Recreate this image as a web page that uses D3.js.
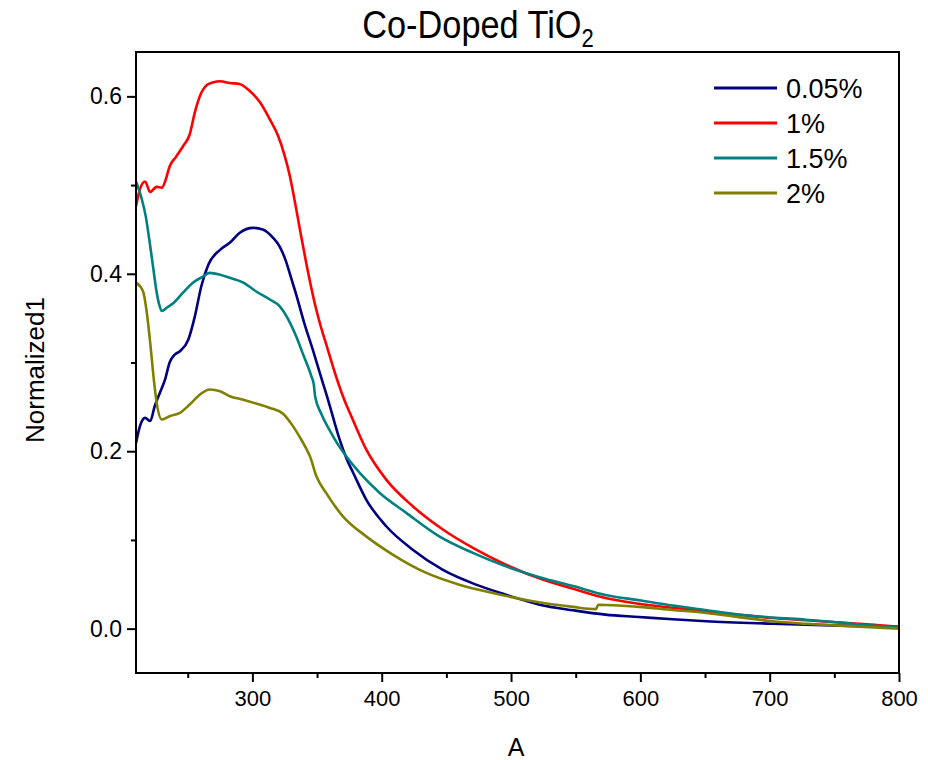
<!DOCTYPE html>
<html><head><meta charset="utf-8">
<script src="https://cdn.jsdelivr.net/npm/d3@7"></script>
<style>body{margin:0;background:#fff}svg{display:block}</style>
</head><body><svg id="c" width="928" height="760"></svg>
<script>
const seriesNames = ["0.05%", "1%", "1.5%", "2%"];
const seriesColors = ["#000080", "#ff0000", "#008080", "#808000"];
const xTicks = [300, 400, 500, 600, 700, 800];
const yTicks = [0.0, 0.2, 0.4, 0.6];

const s005 = [[210,0.209],[213,0.228],[217,0.2376],[221,0.234],[224.5,0.251],[228.5,0.266],[232.5,0.281],[236,0.300],[240,0.309],[244,0.3127],[250.5,0.326],[255.5,0.352],[260.5,0.386],[266,0.4105],[275,0.427],[282.5,0.435],[290,0.446],[300.5,0.4518],[308,0.450],[316,0.4406],[321,0.431],[326,0.414],[330,0.395],[334,0.376],[340,0.345],[347,0.313],[353,0.284],[358.5,0.258],[363,0.235],[367.5,0.213],[373,0.191],[378,0.1755],[388,0.1455],[403.5,0.1154],[424,0.089],[447,0.0665],[473,0.0496],[496,0.0383],[522,0.027],[548,0.0207],[573,0.0158],[599,0.0132],[625,0.0105],[651,0.0083],[702,0.0056],[754,0.0034],[800,0.002]];
const s1 = [[210,0.476],[213,0.495],[217,0.504],[221,0.492],[224,0.496],[226,0.498],[230,0.497],[232.5,0.504],[236,0.521],[241,0.532],[246.5,0.544],[251.5,0.557],[255.5,0.582],[260.5,0.604],[265,0.613],[270,0.616],[275,0.617],[282.5,0.615],[290,0.614],[298,0.606],[306,0.593],[313.5,0.574],[320,0.555],[325,0.533],[329,0.510],[333,0.480],[337,0.448],[341,0.417],[345,0.388],[349,0.362],[353,0.340],[357,0.321],[363,0.292],[370,0.262],[377.5,0.236],[388,0.202],[403.5,0.168],[424,0.138],[447,0.112],[473,0.089],[496,0.072],[525,0.055],[550,0.044],[573,0.0345],[599,0.028],[625,0.0235],[651,0.0195],[676,0.0155],[702,0.012],[728,0.0095],[754,0.007],[778,0.0045],[800,0.002]];
const s15 = [[210,0.504],[214.5,0.484],[217.5,0.465],[221,0.431],[223,0.410],[226,0.379],[228,0.365],[230,0.358],[234,0.362],[239,0.367],[246.5,0.379],[254,0.390],[262,0.397],[267,0.401],[275,0.399],[282.5,0.3955],[293,0.390],[303,0.380],[313.5,0.371],[321,0.3635],[329,0.345],[334,0.329],[339,0.310],[345.5,0.285],[347.5,0.275],[348.5,0.262],[353,0.243],[360,0.223],[366,0.208],[372.7,0.194],[383,0.1755],[398.5,0.153],[419,0.1305],[444.5,0.104],[470.5,0.0854],[496,0.0703],[522,0.058],[548,0.048],[573,0.038],[599,0.032],[625,0.026],[650,0.021],[676,0.0158],[702,0.0125],[728,0.0101],[754,0.007],[779,0.0034],[800,0.001]];
const s2 = [[210,0.390],[215.5,0.380],[218,0.360],[221,0.322],[223.5,0.2846],[226,0.2545],[230,0.2357],[236,0.2394],[244,0.2433],[251.5,0.2526],[259.5,0.264],[267,0.2695],[275,0.2676],[282.5,0.262],[293,0.258],[303,0.2537],[313.5,0.2488],[323.5,0.2425],[331.5,0.228],[337,0.215],[342,0.2019],[344.5,0.1943],[349.5,0.1718],[357,0.153],[370,0.1266],[388,0.104],[408.5,0.0835],[434.5,0.0628],[460,0.0496],[486,0.0402],[517,0.0308],[548,0.0245],[565.5,0.022],[567.5,0.027],[599,0.0245],[625,0.021],[651,0.0177],[676,0.013],[702,0.0083],[728,0.0055],[754,0.0034],[800,0.0]];
const seriesData = [s005, s1, s15, s2];

const svg = d3.select("#c");
const m = {l:136, r:899, t:52, b:673};
const x = d3.scaleLinear().domain([210, 800]).range([m.l, m.r]);
const y = d3.scaleLinear().domain([-0.05, 0.65]).range([m.b, m.t]);
const font = "Liberation Sans, Arial, sans-serif";

// lines
svg.append("clipPath").attr("id","clp").append("rect")
  .attr("x", m.l).attr("y", m.t).attr("width", m.r-m.l).attr("height", m.b-m.t);
const line = d3.line().x(d=>x(d[0])).y(d=>y(d[1])).curve(d3.curveMonotoneX);
const g = svg.append("g").attr("clip-path","url(#clp)");
seriesData.forEach((s,i)=>{
  g.append("path").attr("d", line(s)).attr("fill","none")
    .attr("stroke", seriesColors[i]).attr("stroke-width", 2.6).attr("stroke-linejoin","round");
});

// frame
svg.append("rect").attr("x", m.l).attr("y", m.t).attr("width", m.r-m.l).attr("height", m.b-m.t)
  .attr("fill","none").attr("stroke","#000").attr("stroke-width",2);

// x axis
svg.append("g").attr("class","xax").attr("transform",`translate(0,${m.b})`)
  .call(d3.axisBottom(x).tickValues(xTicks).tickFormat(d3.format("d")).tickSize(9).tickPadding(8));
svg.append("g").attr("transform",`translate(0,${m.b})`)
  .call(d3.axisBottom(x).tickValues([250,350,450,550,650,750]).tickFormat("").tickSize(5));
// y axis
svg.append("g").attr("class","yax").attr("transform",`translate(${m.l},0)`)
  .call(d3.axisLeft(y).tickValues(yTicks).tickFormat(d3.format(".1f")).tickSize(9).tickPadding(5));
svg.append("g").attr("transform",`translate(${m.l},0)`)
  .call(d3.axisLeft(y).tickValues([0.1,0.3,0.5]).tickFormat("").tickSize(5));
svg.selectAll(".domain").remove();
svg.selectAll(".tick line").attr("stroke","#000").attr("stroke-width",2);
svg.selectAll(".xax .tick text").attr("font-family", font).attr("font-size", 22).attr("fill","#000");
svg.selectAll(".yax .tick text").attr("font-family", font).attr("font-size", 23).attr("fill","#000");

// titles
const tg = svg.append("g").attr("transform","translate(478,0) scale(0.88,1)");
const t = tg.append("text").attr("x", 0).attr("y", 38).attr("text-anchor","middle")
  .attr("font-family", font).attr("font-size", 39).attr("fill","#000");
t.append("tspan").text("Co-Doped TiO");
t.append("tspan").attr("font-size", 25).attr("dy", 9).text("2");

svg.append("text").attr("x", 516).attr("y", 756).attr("text-anchor","middle")
  .attr("font-family", font).attr("font-size", 25).text("A");
svg.append("text").attr("transform","translate(44,370) rotate(-90)").attr("text-anchor","middle")
  .attr("font-family", font).attr("font-size", 26).text("Normalized1");

// legend
const lg = svg.append("g");
seriesNames.forEach((n,i)=>{
  const yy = 88 + i*35;
  lg.append("line").attr("x1",714).attr("x2",777).attr("y1",yy).attr("y2",yy)
    .attr("stroke", seriesColors[i]).attr("stroke-width",3);
  lg.append("text").attr("x",786).attr("y",yy+10).attr("font-family",font)
    .attr("font-size",27).text(n);
});
</script></body></html>
